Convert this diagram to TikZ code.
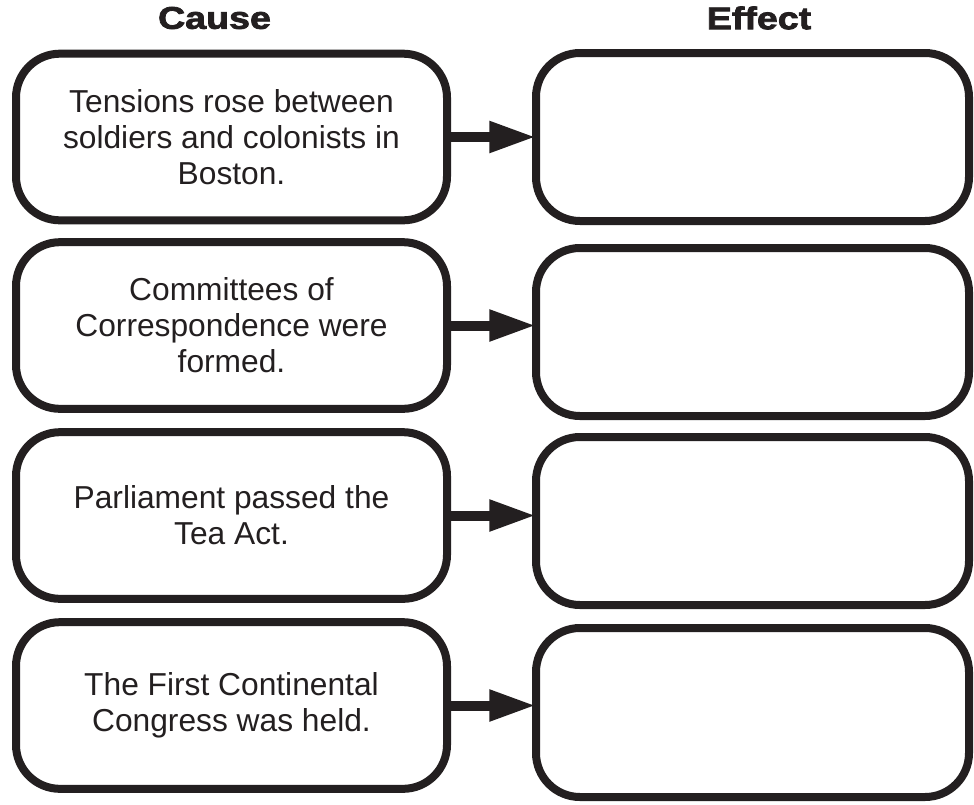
\documentclass[tikz,border=0pt]{standalone}
\usepackage{fontspec}
\setmainfont{Liberation Sans}
\newfontfamily\titlefont[FakeStretch=1.2, BoldFeatures={FakeBold=2.5}]{Liberation Sans}
\usetikzlibrary{arrows.meta}
\definecolor{ink}{HTML}{231F20}
\tikzset{
  box/.style={draw=ink, line width=6pt, rounded corners=33pt, fill=white,
    minimum height=125pt, inner sep=0pt, outer sep=0pt, align=center,
    text=ink, font=\fontsize{23.8pt}{27pt}\selectfont},
  lbox/.style={box, minimum width=323.25pt},
  rbox/.style={box, minimum width=324.75pt},
  title/.style={text=ink, font=\titlefont\bfseries\fontsize{23.5pt}{28pt}\selectfont, inner sep=0pt},
  arr/.style={draw=ink, line width=7.5pt, -{Triangle[length=35pt, width=22pt]}}
}
\begin{document}
\begin{tikzpicture}[x=0.75pt, y=-0.75pt]
\useasboundingbox (0,0) rectangle (974,804);
\node[title] (cause) at (214.5,18) {Cause};
\node[title] (effect) at (759,18) {Effect};

\node[lbox] (L1) at (231.5,137) {Tensions rose between\\soldiers and colonists in\\Boston.};
\node[lbox] (L2) at (231.5,325.5) {Committees of\\Correspondence were\\formed.};
\node[lbox] (L3) at (231.5,515.5) {Parliament passed the\\Tea Act.};
\node[lbox] (L4) at (231.5,705.5) {The First Continental\\Congress was held.};

\node[rbox, minimum height=126pt] (R1) at (752.5,137) {};
\node[rbox, minimum height=126pt] (R2) at (752.5,332) {};
\node[rbox, minimum height=126pt] (R3) at (752.5,521) {};
\node[rbox, minimum height=126.75pt] (R4) at (752.5,712.5) {};

\draw[arr] (L1.east) -- (L1.east -| R1.west);
\draw[arr] (L2.east) -- (L2.east -| R2.west);
\draw[arr] (L3.east) -- (L3.east -| R3.west);
\draw[arr] (L4.east) -- (L4.east -| R4.west);
\end{tikzpicture}
\end{document}
